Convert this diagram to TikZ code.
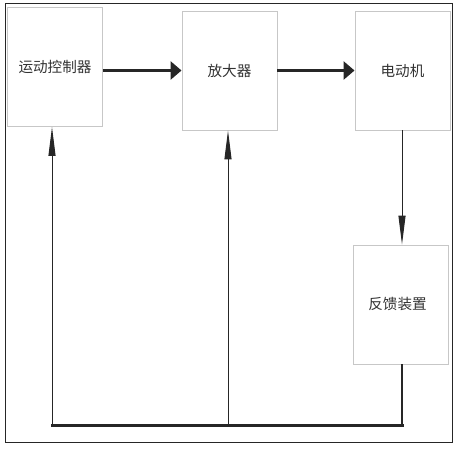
\documentclass[tikz,border=0pt]{standalone}
\usepackage{fontspec}
\newfontfamily\cjk{Noto Sans CJK SC}
\usetikzlibrary{arrows.meta}
\begin{document}
\begin{tikzpicture}[x=1pt,y=-1pt,
  blk/.style={draw=black!22, line width=0.9pt, fill=white, minimum width=95pt, minimum height=119pt, inner sep=0pt, font=\cjk\fontsize{14.6}{16}\selectfont, text=black!80},
  fwd/.style={line width=3pt, draw=black!85, -{Triangle[length=11pt,width=18pt]}},
  thinarr/.style={line width=1pt, draw=black!85, -{Triangle[length=29pt,width=7pt]}},
  bus/.style={line width=3pt, draw=black!85},
  drop/.style={line width=1.2pt, draw=black!85}]
\useasboundingbox (0,0) rectangle (460,450);
\draw[line width=1pt, black!85] (5.5,3.5) rectangle (452.5,442);
\node[blk] (b1) at (55,67) {\raisebox{-1.5pt}{运动控制器}};
\node[blk] (b2) at (229.5,70.5) {放大器};
\node[blk] (b3) at (402.5,70.5) {\raisebox{-2pt}{电动机}};
\node[blk] (b4) at (400.5,304.5) {\hspace*{-6pt}\raisebox{3pt}{反馈装置}};
\coordinate (c1) at (52,425);
\coordinate (c2) at (228,425);
\coordinate (c4) at (402,425);
\draw[fwd] (b1.east |- b2.west) -- (b2.west);
\draw[fwd] (b2.east) -- (b3.west);
\draw[thinarr] (c4 |- b3.south) -- (c4 |- b4.north);
\draw[drop] (c4 |- b4.south) -- (c4);
\draw[bus, line cap=rect] (c1) -- (c4);
\draw[thinarr] (c1) -- (c1 |- b1.south);
\draw[thinarr] (c2) -- (c2 |- b2.south);
\end{tikzpicture}
\end{document}
